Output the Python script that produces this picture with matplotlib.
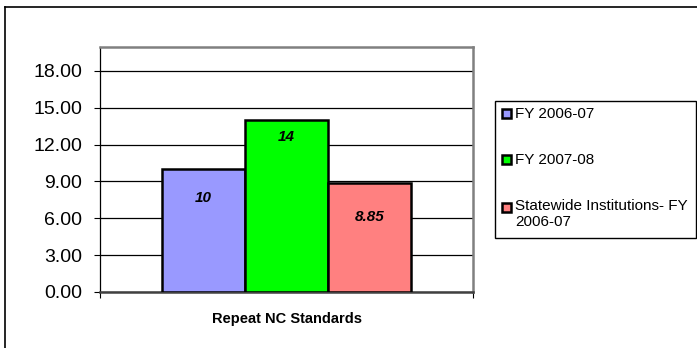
import matplotlib.pyplot as plt
from matplotlib.patches import Rectangle
from matplotlib.lines import Line2D

plt.rcParams['font.family'] = ['Liberation Sans', 'DejaVu Sans']

category = 'Repeat NC Standards'
series = ['FY 2006-07', 'FY 2007-08', 'Statewide Institutions- FY\n2006-07']
values = [10, 14, 8.85]
value_labels = ['10', '14', '8.85']
label_drop = [2.35, 1.4, 2.75]
colors = ['#9999FF', '#00FF00', '#FF8080']
yticks = [0, 3, 6, 9, 12, 15, 18]

fig = plt.figure(figsize=(6.97, 3.48), dpi=100)
ax = fig.add_axes([100 / 697, 1 - 292 / 348, 373 / 697, 245 / 348])

w = 0.2225
for i, (v, c) in enumerate(zip(values, colors)):
    x = (i - 1) * w
    ax.bar(x, v, width=w, color=c, edgecolor='black', linewidth=1.8, zorder=3)
    ax.text(x, v - label_drop[i], value_labels[i], ha='center', va='center',
            fontsize=11, fontweight='bold', fontstyle='italic', zorder=4)

ax.set_xlim(-0.5, 0.5)
ax.set_ylim(0, 19.95)
ax.set_yticks(yticks)
ax.set_yticklabels([f'{t:.2f}' for t in yticks], fontsize=14)
ax.yaxis.grid(True, color='black', linewidth=0.9)
ax.set_axisbelow(True)
ax.tick_params(axis='y', direction='out', length=4, width=0.8, pad=9)
ax.set_xticks([-0.5, 0.5])
ax.set_xticklabels(['', ''])
ax.tick_params(axis='x', direction='out', length=4, width=0.8)
ax.set_xlabel(category, fontsize=10.5, fontweight='bold', labelpad=7)

ax.spines['left'].set_color('black')
ax.spines['left'].set_linewidth(0.9)
ax.spines['bottom'].set_color('#404040')
ax.spines['bottom'].set_linewidth(1.8)
for s in ['top', 'right']:
    ax.spines[s].set_color('#808080')
    ax.spines[s].set_linewidth(1.8)

# outer chart border (cropped at right and bottom)
fig.add_artist(Line2D([5 / 697, 5 / 697], [0, 1 - 7 / 348], color='black', linewidth=1.2,
                      transform=fig.transFigure))
fig.add_artist(Line2D([5 / 697, 1], [1 - 7 / 348, 1 - 7 / 348], color='black', linewidth=1.2,
                      transform=fig.transFigure))

# legend
W, H = 697, 348
fig.add_artist(Rectangle((495 / W, 1 - 238 / H), 201 / W, 137 / H, transform=fig.transFigure,
                         facecolor='white', edgecolor='black', linewidth=1.0))
rows = [114, 160, 207]
for y, lab, c in zip(rows, series, colors):
    fig.add_artist(Rectangle((502 / W, 1 - (y + 4.5) / H), 9 / W, 9 / H, transform=fig.transFigure,
                             facecolor=c, edgecolor='black', linewidth=1.8))
    fig.text(515 / W, 1 - (y - 7.5) / H, lab, fontsize=11, va='top', ha='left', linespacing=1.15)

fig.savefig('out.png', dpi=100)
